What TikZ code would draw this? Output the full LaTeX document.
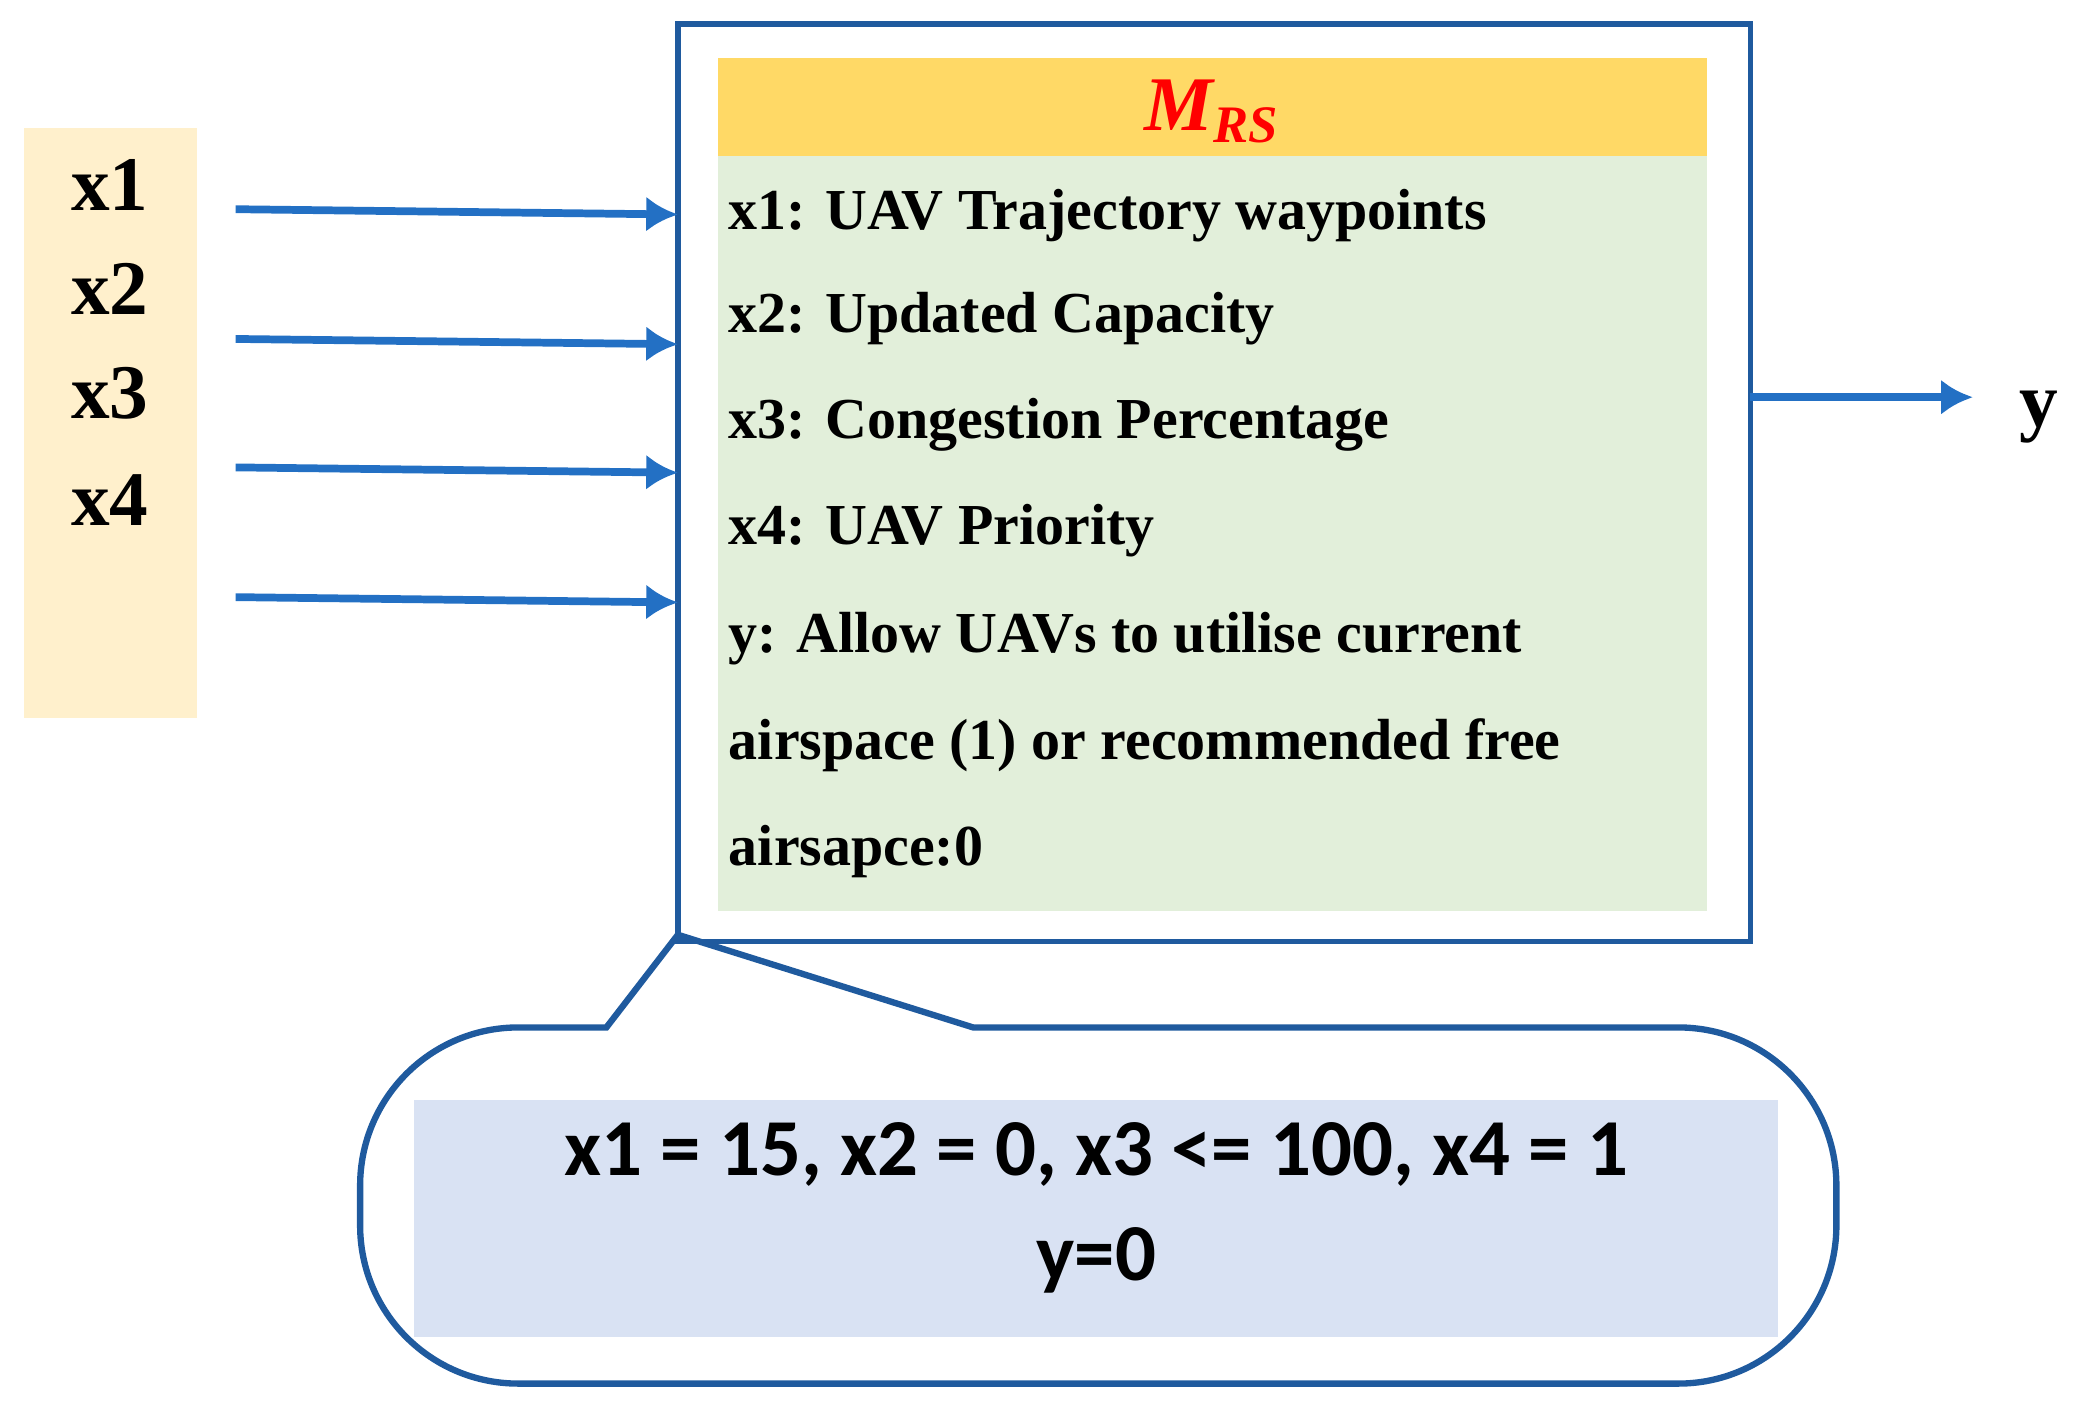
\documentclass[tikz,border=0pt]{standalone}
\usepackage{fontspec}
\usetikzlibrary{arrows.meta}
\setmainfont{Liberation Serif}
\newfontfamily\calib{Carlito}
\definecolor{arrblue}{HTML}{2370C4}
\definecolor{frblue}{HTML}{1F5A9E}
\begin{document}
\begin{tikzpicture}[x=0.01324cm,y=-0.01324cm,
  arr/.style={draw=arrblue,line width=2.2pt,-{Latex[length=9pt,width=10pt]}},
  lbl/.style={font=\fontsize{22}{24}\selectfont\bfseries,inner sep=0pt},
  txt/.style={font=\fontsize{16.5}{18}\selectfont\bfseries,anchor=west,inner sep=0pt},
  frame/.style={draw=frblue,line width=1.6pt}]
\useasboundingbox (0,0) rectangle (1568,1065);
\fill[fill={rgb,255:red,255;green,240;blue,204}] (18,97) rectangle (149,542);
\node[lbl] (l1) at (83,140) {x1};
\node[lbl] (l2) at (83,218) {x2};
\node[lbl] (l3) at (83,297) {x3};
\node[lbl] (l4) at (83,378) {x4};
\draw[frame] (512,18) rectangle (1322,711);
\fill[fill={rgb,255:red,255;green,217;blue,102}] (542,44) rectangle (1289,118);
\fill[fill={rgb,255:red,226;green,239;blue,218}] (542,118) rectangle (1289,688);
\node[font=\fontsize{22}{24}\selectfont\bfseries\itshape,text=red,inner sep=0pt] (m) at (915,84) {M\raisebox{-0.35ex}{\fontsize{15}{16}\selectfont RS}};
\node[txt] (t1) at (550,163) {x1: UAV Trajectory waypoints};
\node[txt] (t2) at (550,241) {x2: Updated Capacity};
\node[txt] (t3) at (550,321) {x3: Congestion Percentage};
\node[txt] (t4) at (550,401) {x4: UAV Priority};
\node[txt] (t5) at (550,482) {y: Allow UAVs to utilise current};
\node[txt] (t6) at (550,563) {airspace (1) or recommended free};
\node[txt] (t7) at (550,643) {airsapce:0};
\foreach \i/\ya/\yb in {1/158/162,2/256/260,3/353/357,4/451/455}{
  \coordinate (s\i) at (178,\ya); \coordinate (e\i) at (512,\yb);
  \draw[arr] (s\i) -- (e\i);}
\coordinate (os) at (1322,300); \coordinate (oe) at (1490,300);
\draw[arr] (os) -- (oe);
\node[lbl] (y) at (1540,315) {y};
\coordinate (p0) at (512,706);
\draw[frame,line width=1.8pt] (458,776) -- (p0) -- (735,776) [rounded corners=45] -- (1387,776) -- (1387,1045) -- (272,1045) -- (272,776) [sharp corners] -- cycle;
\fill[fill={rgb,255:red,217;green,226;blue,243}] (313,831) rectangle (1343,1010);
\node[font=\calib\fontsize{23}{25}\selectfont\bfseries,inner sep=0pt] (c1) at (828,872) {x1 = 15, x2 = 0, x3 <= 100, x4 = 1};
\node[font=\calib\fontsize{23}{25}\selectfont\bfseries,inner sep=0pt] (c2) at (828,952) {y=0};
\end{tikzpicture}
\end{document}
